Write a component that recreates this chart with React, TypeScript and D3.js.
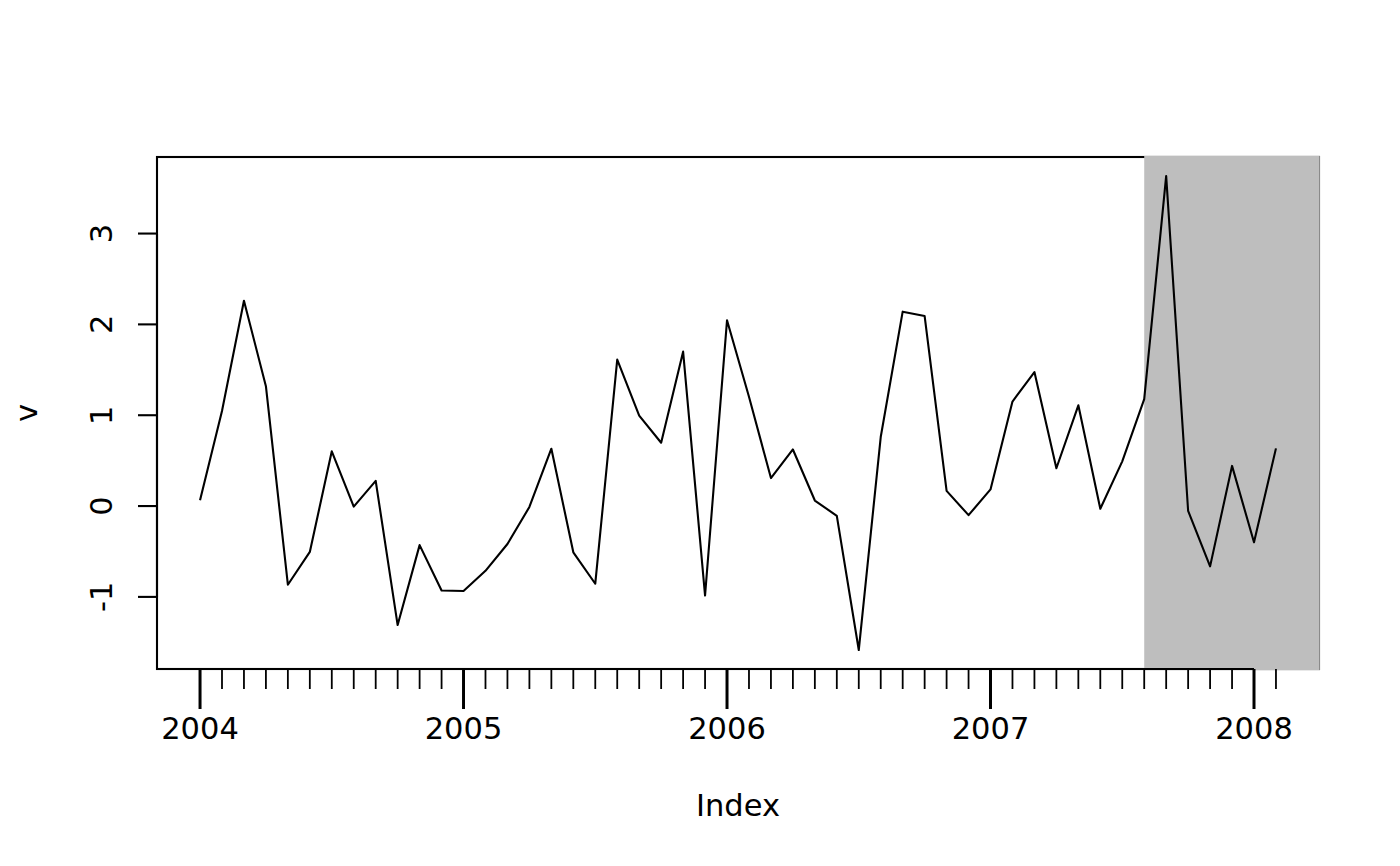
import React, { useEffect, useRef } from "react";
import * as d3 from "d3";

// monthly series, Jan 2004 .. Feb 2008
const startYear = 2004;
const values = [
  0.065, 1.047, 2.26, 1.32, -0.866, -0.505, 0.603, -0.006, 0.277, -1.31, -0.43, -0.929,
  -0.935, -0.713, -0.418, -0.01, 0.631, -0.509, -0.855, 1.613, 0.996, 0.697, 1.7, -0.985,
  2.045, 1.204, 0.308, 0.623, 0.061, -0.108, -1.585, 0.76, 2.14, 2.092, 0.167, -0.1,
  0.183, 1.151, 1.475, 0.416, 1.109, -0.03, 0.492, 1.177, 3.634, -0.054, -0.664, 0.442,
  -0.399, 0.635,
];
const yearTicks = [2004, 2005, 2006, 2007, 2008];
const yTicks = [-1, 0, 1, 2, 3];
const shadeFrom = 2007 + 7 / 12; // Aug 2007
const xLabel = "Index";
const yLabel = "v";

const App: React.FC = () => {
  const ref = useRef<SVGSVGElement>(null);

  useEffect(() => {
    const width = 1400;
    const height = 866;
    const left = 157;
    const right = 1319;
    const top = 157;
    const bottom = 669;
    const font = "DejaVu Sans, sans-serif";
    const lw = 2.1;

    const data = values.map((v, i) => ({ t: startYear + i / 12, v }));

    // R style: data extent padded by 4%
    const [x0, x1] = d3.extent(data, (d) => d.t) as [number, number];
    const [y0, y1] = d3.extent(data, (d) => d.v) as [number, number];
    const px = (x1 - x0) * 0.04;
    const py = (y1 - y0) * 0.04;

    const x = d3.scaleLinear().domain([x0 - px, x1 + px]).range([left, right]);
    const y = d3.scaleLinear().domain([y0 - py, y1 + py]).range([bottom, top]);

    const svg = d3.select(ref.current);
    svg.selectAll("*").remove();
    svg.attr("width", width).attr("height", height);

    svg.append("rect").attr("width", width).attr("height", height).attr("fill", "#fff");

    // plot box
    svg
      .append("rect")
      .attr("x", left)
      .attr("y", top)
      .attr("width", right - left)
      .attr("height", bottom - top)
      .attr("fill", "none")
      .attr("stroke", "#000")
      .attr("stroke-width", lw);

    // shaded period
    svg
      .append("rect")
      .attr("x", x(shadeFrom))
      .attr("y", top - 1.2)
      .attr("width", right - x(shadeFrom) + 1)
      .attr("height", bottom - top + 2.4)
      .attr("fill", "#bebebe");
    svg
      .append("line")
      .attr("x1", right + 0.5)
      .attr("x2", right + 0.5)
      .attr("y1", top - 1)
      .attr("y2", bottom + 1)
      .attr("stroke", "#8a8a8a")
      .attr("stroke-width", 1);

    // x axis
    const xg = svg.append("g");
    xg.append("line")
      .attr("x1", x(yearTicks[0]))
      .attr("x2", x(yearTicks[yearTicks.length - 1]))
      .attr("y1", bottom)
      .attr("y2", bottom)
      .attr("stroke", "#000")
      .attr("stroke-width", lw);
    xg.selectAll(".minor")
      .data(data.filter((d, i) => i % 12 !== 0))
      .enter()
      .append("line")
      .attr("x1", (d) => x(d.t))
      .attr("x2", (d) => x(d.t))
      .attr("y1", bottom)
      .attr("y2", bottom + 20)
      .attr("stroke", "#000")
      .attr("stroke-width", 1.8);
    xg.selectAll(".major")
      .data(yearTicks)
      .enter()
      .append("line")
      .attr("x1", (d) => x(d))
      .attr("x2", (d) => x(d))
      .attr("y1", bottom)
      .attr("y2", bottom + 40)
      .attr("stroke", "#000")
      .attr("stroke-width", 3);
    xg.selectAll("text")
      .data(yearTicks)
      .enter()
      .append("text")
      .attr("x", (d) => x(d))
      .attr("y", 739)
      .attr("text-anchor", "middle")
      .attr("font-family", font)
      .attr("font-size", 30.5)
      .text((d) => String(d));

    // y axis
    const yg = svg.append("g");
    yg.append("line")
      .attr("x1", left)
      .attr("x2", left)
      .attr("y1", y(yTicks[0]))
      .attr("y2", y(yTicks[yTicks.length - 1]))
      .attr("stroke", "#000")
      .attr("stroke-width", lw);
    yg.selectAll(".tick")
      .data(yTicks)
      .enter()
      .append("line")
      .attr("x1", left - 19)
      .attr("x2", left)
      .attr("y1", (d) => y(d))
      .attr("y2", (d) => y(d))
      .attr("stroke", "#000")
      .attr("stroke-width", lw);
    yg.selectAll("text")
      .data(yTicks)
      .enter()
      .append("text")
      .attr("transform", (d) => `translate(112,${y(d)}) rotate(-90)`)
      .attr("text-anchor", "middle")
      .attr("font-family", font)
      .attr("font-size", 30.5)
      .text((d) => String(d));

    // axis titles
    svg
      .append("text")
      .attr("x", (left + right) / 2)
      .attr("y", 816)
      .attr("text-anchor", "middle")
      .attr("font-family", font)
      .attr("font-size", 30.5)
      .text(xLabel);
    svg
      .append("text")
      .attr("transform", `translate(37,${(top + bottom) / 2}) rotate(-90)`)
      .attr("text-anchor", "middle")
      .attr("font-family", font)
      .attr("font-size", 30.5)
      .text(yLabel);

    // series
    svg
      .append("path")
      .datum(data)
      .attr("fill", "none")
      .attr("stroke", "#000")
      .attr("stroke-width", lw)
      .attr("stroke-linejoin", "round")
      .attr(
        "d",
        d3
          .line<{ t: number; v: number }>()
          .x((d) => x(d.t))
          .y((d) => y(d.v))
      );
  }, []);

  return (
    <svg
      ref={ref}
      style={{ position: "absolute", left: 0, top: 0, display: "block" }}
    />
  );
};

export default App;
